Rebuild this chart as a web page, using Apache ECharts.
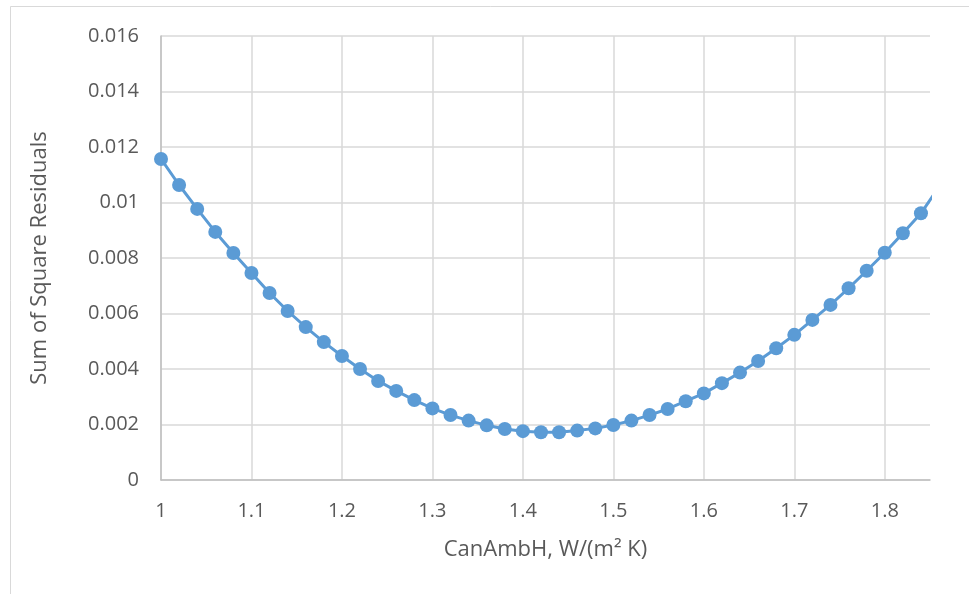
<!DOCTYPE html>
<html>
<head>
<meta charset="utf-8">
<script src="https://cdn.jsdelivr.net/npm/echarts@6/dist/echarts.min.js"></script>
<style>
html,body{margin:0;padding:0;background:#fff;}
#chart{width:969px;height:594px;}
</style>
</head>
<body>
<div id="chart"></div>
<script>
const canAmbH = [1.00,1.02,1.04,1.06,1.08,1.10,1.12,1.14,1.16,1.18,1.20,1.22,1.24,1.26,1.28,1.30,1.32,1.34,1.36,1.38,1.40,1.42,1.44,1.46,1.48,1.50,1.52,1.54,1.56,1.58,1.60,1.62,1.64,1.66,1.68,1.70,1.72,1.74,1.76,1.78,1.80,1.82,1.84,1.86];
const sumSqResiduals = [0.01157,0.01063,0.00977,0.00894,0.00818,0.00746,0.00674,0.00609,0.00551,0.00497,0.00447,0.00400,0.00357,0.00321,0.00288,0.00258,0.00234,0.00214,0.00197,0.00184,0.00176,0.00172,0.00172,0.00178,0.00186,0.00198,0.00214,0.00234,0.00256,0.00284,0.00312,0.00349,0.00387,0.00429,0.00475,0.00523,0.00577,0.00631,0.00691,0.00754,0.00819,0.00889,0.00961,0.01057];
const xAxisTitle = 'CanAmbH, W/(m\u00B2 K)';
const yAxisTitle = 'Sum of Square Residuals';

const font = 'Open Sans';
const textColor = '#595959';
const chart = echarts.init(document.getElementById('chart'));
chart.setOption({
  animation: false,
  backgroundColor: '#fff',
  graphic: [{
    type: 'rect', silent: true,
    shape: {x: 10.5, y: 6.5, width: 1200, height: 1200},
    style: {fill: 'none', stroke: '#d9d9d9', lineWidth: 1}
  }],
  grid: {left: 161, top: 36, right: 39, bottom: 114, containLabel: false},
  xAxis: {
    type: 'value', min: 1, max: 1.85, interval: 0.1,
    name: xAxisTitle, nameLocation: 'middle', nameGap: 59,
    nameTextStyle: {fontFamily: font, fontSize: 22, color: textColor},
    axisLine: {show: true, onZero: false, lineStyle: {color: '#bfbfbf', width: 1.5}},
    axisTick: {show: false},
    axisLabel: {fontFamily: font, fontSize: 20, color: textColor, margin: 21, showMaxLabel: false,
      formatter: v => String(+v.toFixed(2))},
    splitLine: {show: true, showMaxLine: false, lineStyle: {color: '#d9d9d9', width: 1.5}}
  },
  yAxis: {
    type: 'value', min: 0, max: 0.016, interval: 0.002,
    name: yAxisTitle, nameLocation: 'middle', nameGap: 110, nameRotate: 90,
    nameTextStyle: {fontFamily: font, fontSize: 22, color: textColor},
    axisLine: {show: true, lineStyle: {color: '#bfbfbf', width: 1.5}},
    axisTick: {show: false},
    axisLabel: {fontFamily: font, fontSize: 20, color: textColor, margin: 22,
      formatter: v => String(+v.toFixed(3))},
    splitLine: {show: true, lineStyle: {color: '#d9d9d9', width: 1.5}}
  },
  series: [{
    type: 'line',
    data: canAmbH.map((x, i) => [x, sumSqResiduals[i]]),
    clip: true,
    symbol: 'circle', symbolSize: 14,
    lineStyle: {color: '#5b9bd5', width: 3},
    itemStyle: {color: '#5b9bd5'}
  }]
});
</script>
</body>
</html>
